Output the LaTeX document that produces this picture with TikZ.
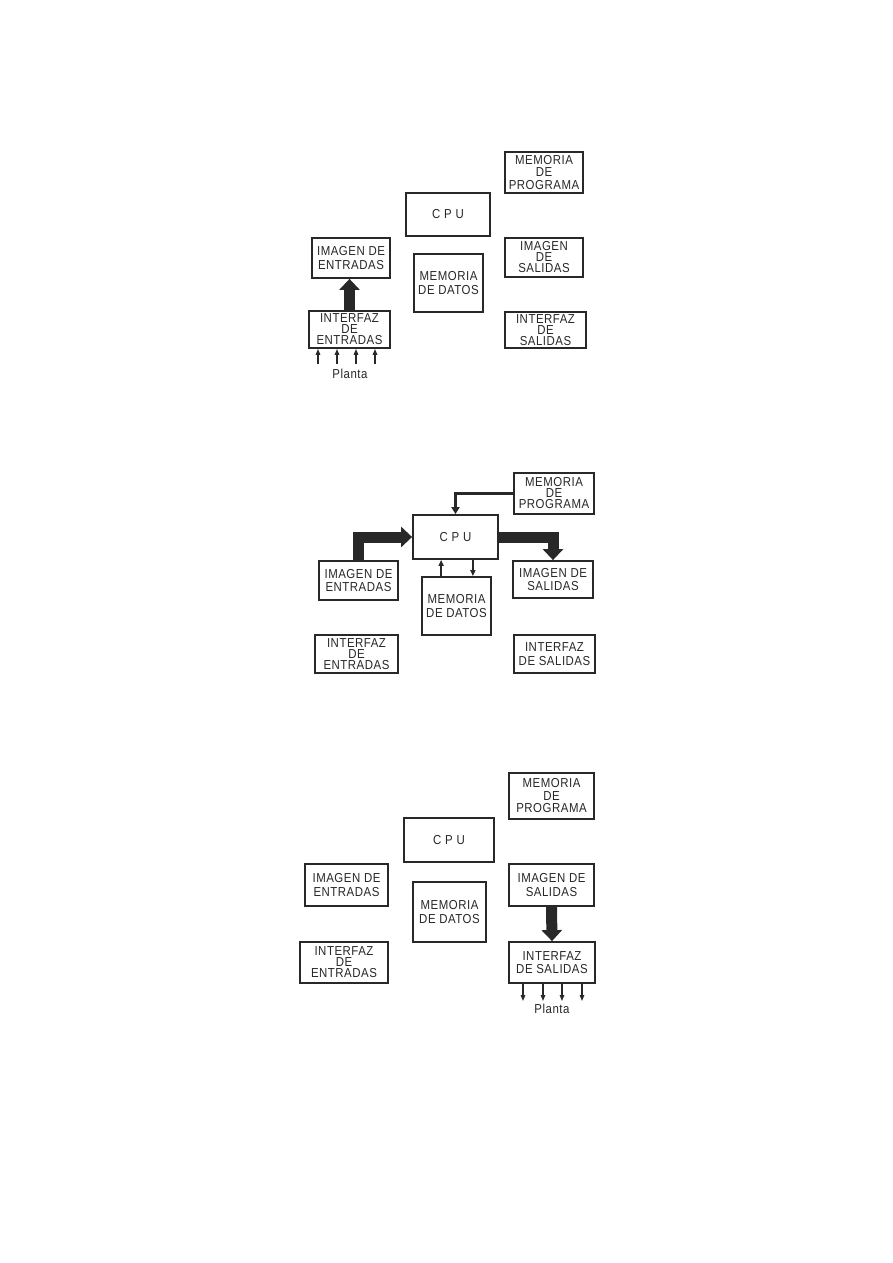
\documentclass[tikz,border=0pt]{standalone}
\usepackage{fontspec}
\newfontfamily\boxfont[LetterSpace=4,FakeStretch=0.88]{Liberation Sans}
\usetikzlibrary{arrows.meta}
\definecolor{ink}{RGB}{40,40,40}
\begin{document}
\begin{tikzpicture}[x=1pt,y=-1pt,
  box/.style={draw=ink, line width=1.8pt, inner sep=0pt, align=center, text=ink,
    font=\boxfont\fontsize{13}{13.5}\selectfont},
  tight/.style={font=\boxfont\fontsize{13}{11}\selectfont},
  mid/.style={font=\boxfont\fontsize{13}{12.5}\selectfont},
  fat/.style={draw=ink, line width=11pt, line join=miter, -{Triangle[width=20pt,length=11pt]}},
  prog/.style={draw=ink, line width=2.5pt, -{Triangle[width=8pt,length=7pt]}},
  thin/.style={draw=ink, line width=1.8pt, -{Triangle[width=5pt,length=6pt]}},
  plant/.style={draw=ink, line width=1.3pt, -{Triangle[width=4.5pt,length=6pt]}},
  lbl/.style={text=ink, inner sep=0pt, font=\boxfont\fontsize{13}{13}\selectfont}]
\fill[white] (0,0) rectangle (893,1263);
\useasboundingbox (0,0) rectangle (893,1263);

% ---------- Panel 1 ----------
\node[box, mid, minimum width=78pt, minimum height=41pt] (mp1) at (544,172.5) {MEMORIA\\DE\\PROGRAMA};
\node[box, minimum width=84pt, minimum height=43pt] (cpu1) at (448,214.5) {C P U};
\node[box, minimum width=78pt, minimum height=40pt] (ie1) at (351,258) {IMAGEN DE\\ENTRADAS};
\node[box, minimum width=69pt, minimum height=58pt] (md1) at (448.5,283) {MEMORIA\\DE DATOS};
\node[box, tight, minimum width=78pt, minimum height=39pt] (is1) at (544,257.5) {IMAGEN\\DE\\SALIDAS};
\node[box, tight, minimum width=81pt, minimum height=37pt] (if1) at (349.5,329.5) {INTERFAZ\\DE\\ENTRADAS};
\node[box, tight, minimum width=81pt, minimum height=36pt] (os1) at (545.5,330) {INTERFAZ\\DE\\SALIDAS};
\draw[fat] (if1.north) -- (if1.north |- ie1.south);
\foreach \x/\n in {318/a,337/b,356/c,375/d}{
  \coordinate (p1\n) at (\x,364);
  \draw[plant] (p1\n) -- (p1\n |- if1.south);
}
\node[lbl] (pl1) at (350,374) {Planta};

% ---------- Panel 2 ----------
\node[box, tight, minimum width=80pt, minimum height=41pt] (mp2) at (554,493.5) {MEMORIA\\DE\\PROGRAMA};
\node[box, minimum width=85pt, minimum height=44pt] (cpu2) at (455.5,537) {C P U};
\node[box, minimum width=79pt, minimum height=39pt] (ie2) at (358.5,580.5) {IMAGEN DE\\ENTRADAS};
\node[box, minimum width=69pt, minimum height=58pt] (md2) at (456.5,606) {MEMORIA\\DE DATOS};
\node[box, minimum width=80pt, minimum height=37pt] (is2) at (553,579.5) {IMAGEN DE\\SALIDAS};
\node[box, tight, minimum width=83pt, minimum height=38pt] (if2) at (356.5,654) {INTERFAZ\\DE\\ENTRADAS};
\node[box, minimum width=81pt, minimum height=38pt] (os2) at (554.5,654) {INTERFAZ\\DE SALIDAS};
\draw[prog] (mp2.west) -| (cpu2.north);
\draw[fat] (ie2.north) |- (cpu2.west);
\draw[fat] (cpu2.east) -| (is2.north);
\coordinate (mdl) at ([xshift=20pt]md2.north west);
\coordinate (mdr) at ([xshift=-19pt]md2.north east);
\draw[thin] (mdl) -- (mdl |- cpu2.south);
\draw[thin] (mdr |- cpu2.south) -- (mdr);

% ---------- Panel 3 ----------
\node[box, mid, minimum width=85pt, minimum height=46pt] (mp3) at (551.5,796) {MEMORIA\\DE\\PROGRAMA};
\node[box, minimum width=90pt, minimum height=44pt] (cpu3) at (449,840) {C P U};
\node[box, minimum width=83pt, minimum height=42pt] (ie3) at (346.5,885) {IMAGEN DE\\ENTRADAS};
\node[box, minimum width=73pt, minimum height=60pt] (md3) at (449.5,912) {MEMORIA\\DE DATOS};
\node[box, minimum width=85pt, minimum height=42pt] (is3) at (551.5,885) {IMAGEN DE\\SALIDAS};
\node[box, tight, minimum width=88pt, minimum height=41pt] (if3) at (344,962.5) {INTERFAZ\\DE\\ENTRADAS};
\node[box, minimum width=86pt, minimum height=41pt] (os3) at (552,962.5) {INTERFAZ\\DE SALIDAS};
\draw[fat] (is3.south) -- (os3.north);
\foreach \x/\n in {523/a,543/b,562/c,582/d}{
  \coordinate (p3\n) at (\x,1001);
  \draw[plant] (p3\n |- os3.south) -- (p3\n);
}
\node[lbl] (pl3) at (552,1009) {Planta};
\end{tikzpicture}
\end{document}
